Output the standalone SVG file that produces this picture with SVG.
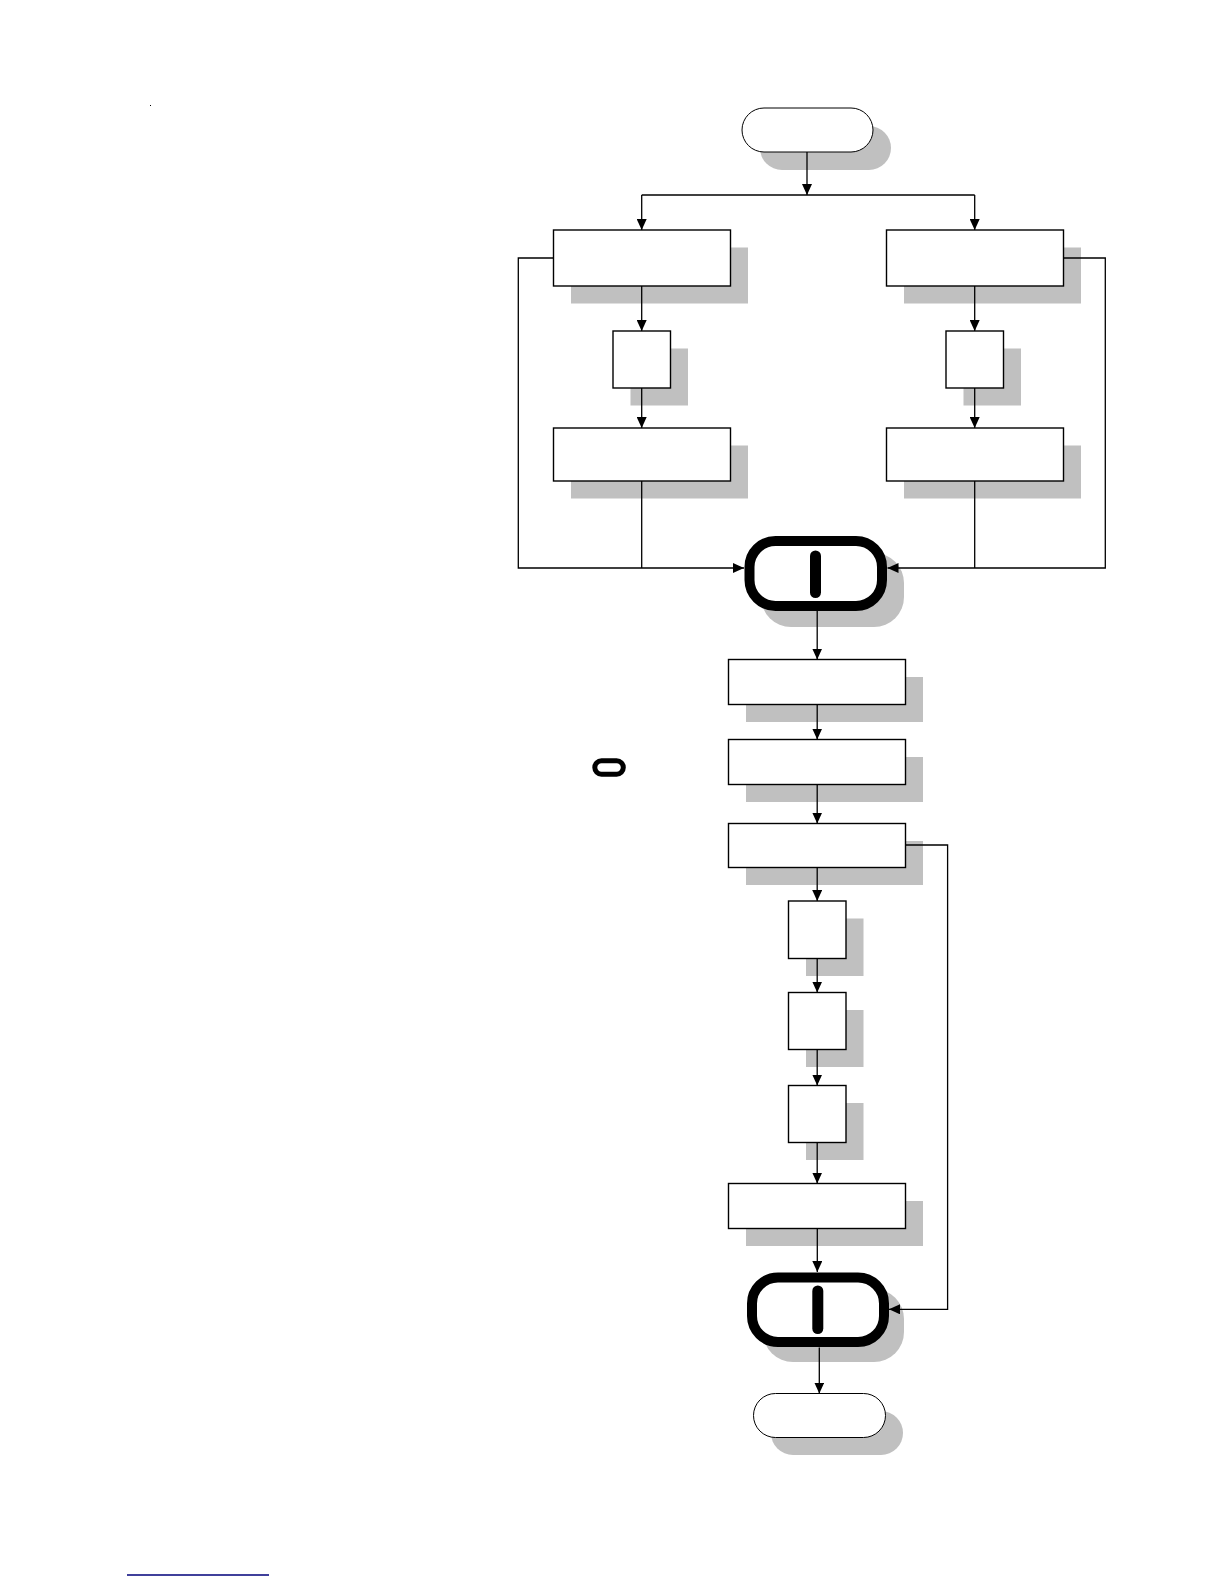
<svg xmlns="http://www.w3.org/2000/svg" width="1224" height="1584" viewBox="0 0 1224 1584">
<defs>
<marker id="ah" viewBox="0 0 11 10" refX="11" refY="5" markerWidth="11" markerHeight="10" markerUnits="userSpaceOnUse" orient="auto">
<path d="M0,0 L11,5 L0,10 Z" fill="#000"/>
</marker>
</defs>
<style>
.sh{fill:#c0c0c0;stroke:none}
.bx{fill:#fff;stroke:#000;stroke-width:1.4}
.tm{fill:#fff;stroke:#000;stroke-width:1}
.mg{fill:#fff;stroke:#000;stroke-width:10}
.bar{stroke:#000;stroke-width:11;stroke-linecap:round}
.c{fill:none;stroke:#000;stroke-width:1.3}
.a{marker-end:url(#ah)}
</style>
<rect width="1224" height="1584" fill="#fff"/>
<rect x="150" y="105" width="1" height="1" fill="#000"/>
<line x1="127" y1="1575" x2="269" y2="1575" stroke="#00007a" stroke-width="1.5"/>
<g id="start">
<rect class="sh" x="760" y="126" width="131" height="44" rx="22"/>
<rect class="tm" x="742" y="108" width="131" height="44" rx="22"/>
</g>
<g id="l1"><rect class="sh" x="571" y="247.5" width="177" height="56"/><rect class="bx" x="553.5" y="230" width="177" height="56"/></g>
<g id="l2"><rect class="sh" x="630.5" y="348.5" width="57.5" height="57"/><rect class="bx" x="613" y="331" width="57.5" height="57"/></g>
<g id="l3"><rect class="sh" x="571" y="445.5" width="177" height="53"/><rect class="bx" x="553.5" y="428" width="177" height="53"/></g>
<g id="r1"><rect class="sh" x="904" y="247.5" width="177" height="56"/><rect class="bx" x="886.5" y="230" width="177" height="56"/></g>
<g id="r2"><rect class="sh" x="963.5" y="348.5" width="57.5" height="57"/><rect class="bx" x="946" y="331" width="57.5" height="57"/></g>
<g id="r3"><rect class="sh" x="904" y="445.5" width="177" height="53"/><rect class="bx" x="886.5" y="428" width="177" height="53"/></g>
<g id="merge1">
<rect class="sh" x="761" y="553" width="143" height="74" rx="30"/>
<rect class="mg" x="749.5" y="541" width="132.5" height="65" rx="26"/>
<line class="bar" x1="815.5" y1="556" x2="815.5" y2="592.5"/>
</g>
<g id="legend">
<rect x="594.8" y="760.8" width="28.5" height="13.5" rx="6.7" fill="none" stroke="#000" stroke-width="5"/>
</g>
<g id="m1"><rect class="sh" x="746" y="677" width="177" height="45"/><rect class="bx" x="728.5" y="659.5" width="177" height="45"/></g>
<g id="m2"><rect class="sh" x="746" y="757" width="177" height="45"/><rect class="bx" x="728.5" y="739.5" width="177" height="45"/></g>
<g id="m3"><rect class="sh" x="746" y="841" width="177" height="44"/><rect class="bx" x="728.5" y="823.5" width="177" height="44"/></g>
<g id="s1"><rect class="sh" x="806" y="918.5" width="57.5" height="57.5"/><rect class="bx" x="788.5" y="901" width="57.5" height="57.5"/></g>
<g id="s2"><rect class="sh" x="806" y="1010" width="57.5" height="57"/><rect class="bx" x="788.5" y="992.5" width="57.5" height="57"/></g>
<g id="s3"><rect class="sh" x="806" y="1103" width="57.5" height="57"/><rect class="bx" x="788.5" y="1085.5" width="57.5" height="57"/></g>
<g id="m4"><rect class="sh" x="746" y="1201" width="177" height="45"/><rect class="bx" x="728.5" y="1183.5" width="177" height="45"/></g>
<g id="merge2">
<rect class="sh" x="763" y="1289" width="141" height="73" rx="30"/>
<rect class="mg" x="752" y="1277.5" width="132" height="64.5" rx="26"/>
<line class="bar" x1="817.8" y1="1291" x2="817.8" y2="1328.5"/>
</g>
<g id="end">
<rect class="sh" x="771" y="1411" width="132" height="44" rx="22"/>
<rect class="tm" x="753.5" y="1393.5" width="132" height="44" rx="22"/>
</g>
<g id="connectors">
<path class="c a" d="M807,152 V195"/>
<path class="c" d="M641.7,195 H974.7"/>
<path class="c a" d="M641.7,195 V230"/>
<path class="c a" d="M974.7,195 V230"/>
<path class="c a" d="M641.7,286 V331"/>
<path class="c a" d="M641.7,388 V428"/>
<path class="c" d="M641.7,481 V568"/>
<path class="c a" d="M974.7,286 V331"/>
<path class="c a" d="M974.7,388 V428"/>
<path class="c" d="M974.7,481 V568"/>
<path class="c a" d="M553.5,258 H518.3 V568 H744"/>
<path class="c a" d="M1063.5,258 H1105.3 V568 H887.5"/>
<path class="c a" d="M817.2,611 V659.5"/>
<path class="c a" d="M817.2,704.5 V739.5"/>
<path class="c a" d="M817.2,784.5 V823.5"/>
<path class="c a" d="M817.2,867.5 V901"/>
<path class="c a" d="M817.2,958.5 V992.5"/>
<path class="c a" d="M817.2,1049.5 V1085.5"/>
<path class="c a" d="M817.2,1142.5 V1183.5"/>
<path class="c a" d="M817.3,1228.5 V1272"/>
<path class="c a" d="M905.5,845 H947.6 V1309.3 H889"/>
<path class="c a" d="M819.3,1347.5 V1393.5"/>
</g>
</svg>
